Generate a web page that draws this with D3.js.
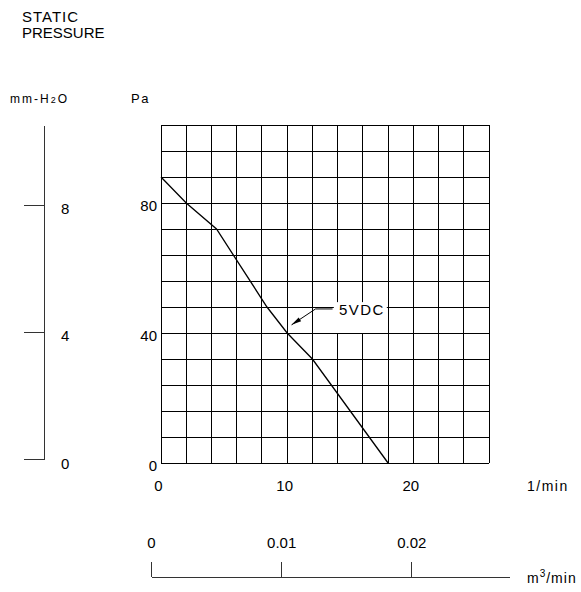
<!DOCTYPE html>
<html>
<head>
<meta charset="utf-8">
<script src="https://cdn.jsdelivr.net/npm/d3@7"></script>
<style>
body{margin:0;background:#fff;}
text{font-family:"Liberation Sans",Arial,sans-serif;fill:#000;}
</style>
</head>
<body>
<div id="viz-container"></div>
<script>
// fan curve, static pressure vs air flow (5VDC)
let flow = [0, 2, 4.4, 8.4, 10, 12, 18];        // 1/min
let pressure = [88, 80, 72, 48, 40, 32, 0];     // Pa

// tick labels
let flowTicks = [0, 10, 20];
let paTicks = [0, 40, 80];
let mmTicks = [0, 4, 8];
let m3Ticks = [0, 0.01, 0.02];
let m3Labels = ["0", "0.01", "0.02"];

// leader for the curve label, in chart units
let noteFlow = [10.35, 12.25, 13.6];
let notePa = [42.5, 47.4, 47.4];

let viz = d3.select("#viz-container")
              .append("svg")
                .attr("width", 581)
                .attr("height", 592)
                .style("background-color", "white")
;

let x = d3.scaleLinear().domain([0, 26]).range([161, 489]);
let y = d3.scaleLinear().domain([0, 104]).range([463, 125]);
let mm = d3.scaleLinear().domain([0, 10.5]).range([459, 125.5]);
let m3 = d3.scaleLinear().domain([0, 0.0275]).range([151, 509]);

//grid
let grid = viz.append("g").attr("shape-rendering", "crispEdges").attr("stroke", "#000").attr("stroke-width", 1);
grid.selectAll("line.v").data(d3.range(0, 27, 2)).enter().append("line")
    .attr("class", "v")
    .attr("x1", d => x(d)).attr("x2", d => x(d))
    .attr("y1", y(0)).attr("y2", y(104));
grid.selectAll("line.h").data(d3.range(0, 105, 8)).enter().append("line")
    .attr("class", "h")
    .attr("x1", x(0)).attr("x2", x(26))
    .attr("y1", d => y(d)).attr("y2", d => y(d));

//curve
let pts = flow.map((f, i) => [f, pressure[i]]);
viz.append("path")
    .attr("d", d3.line().x(d => x(d[0])).y(d => y(d[1]))(pts))
    .attr("fill", "none")
    .attr("stroke", "#000")
    .attr("stroke-width", 1.3);

//label 5VDC with white box and arrow
viz.append("rect")
    .attr("x", x(13.7)).attr("y", y(49.5))
    .attr("width", x(17.9) - x(13.7)).attr("height", y(40) - y(49.5))
    .attr("fill", "white");

viz.append("defs").append("marker")
    .attr("id", "arr")
    .attr("viewBox", "0 -3 10 6")
    .attr("refX", 10).attr("refY", 0)
    .attr("markerUnits", "userSpaceOnUse")
    .attr("markerWidth", 11).attr("markerHeight", 6)
    .attr("orient", "auto")
  .append("path").attr("d", "M0,-2.2L10,0L0,2.2Z").attr("fill", "#000");

let notePts = noteFlow.map((f, i) => [f, notePa[i]]).reverse();
viz.append("path")
    .attr("d", d3.line().x(d => x(d[0])).y(d => y(d[1]))(notePts))
    .attr("fill", "none")
    .attr("stroke", "#000")
    .attr("stroke-width", 1)
    .attr("marker-end", "url(#arr)");

viz.append("text")
    .attr("x", x(14.1)).attr("y", y(47.4) + 6)
    .style("font-size", "15px")
    .style("letter-spacing", "1.5px")
    .text("5VDC");

//Pa axis
let paAxis = viz.append("g")
    .attr("transform", "translate(" + x(0) + ",3)")
    .call(d3.axisLeft(y).tickValues(paTicks).tickSize(0).tickPadding(4));
paAxis.select(".domain").remove();
paAxis.selectAll("text").style("font-size", "15px").style("font-family", "Liberation Sans, Arial, sans-serif");

//mm-H2O axis
let mmAxis = viz.append("g")
    .attr("transform", "translate(44,0)")
    .call(d3.axisRight(mm).tickValues(mmTicks).tickSize(-20).tickSizeOuter(0).tickPadding(17));
mmAxis.selectAll("path, line").attr("stroke", "#333").attr("shape-rendering", "crispEdges");
mmAxis.selectAll("text").attr("dy", "0.6em").style("font-size", "15px").style("font-family", "Liberation Sans, Arial, sans-serif");

//1/min axis
let flowAxis = viz.append("g")
    .attr("transform", "translate(-3," + y(0) + ")")
    .call(d3.axisBottom(x).tickValues(flowTicks).tickSize(0).tickPadding(17));
flowAxis.select(".domain").remove();
flowAxis.selectAll("text").style("font-size", "15px").style("font-family", "Liberation Sans, Arial, sans-serif");

//m3/min axis
let m3Axis = viz.append("g")
    .attr("transform", "translate(0,577)")
    .call(d3.axisTop(m3).tickValues(m3Ticks).tickSize(15).tickSizeOuter(0).tickPadding(14)
            .tickFormat((d, i) => m3Labels[i]));
m3Axis.selectAll("path, line").attr("stroke", "#333").attr("shape-rendering", "crispEdges");
m3Axis.selectAll("text").style("font-size", "15px").style("font-family", "Liberation Sans, Arial, sans-serif");

//titles and units
viz.append("text").attr("x", 22).attr("y", 22).style("font-size", "15px").style("letter-spacing", "1px").text("STATIC");
viz.append("text").attr("x", 22).attr("y", 38).style("font-size", "15px").text("PRESSURE");

let mmLab = viz.append("text").attr("x", 10).attr("y", 103).style("font-size", "12px").style("letter-spacing", "2px");
mmLab.append("tspan").text("mm-H");
mmLab.append("tspan").style("font-size", "9px").text("2");
mmLab.append("tspan").text("O");

viz.append("text").attr("x", 131).attr("y", 103).style("font-size", "13px").style("letter-spacing", "1.5px").text("Pa");

viz.append("text").attr("x", 527).attr("y", 491).style("font-size", "14px").style("letter-spacing", "1.5px").text("1/min");

let m3Lab = viz.append("text").attr("x", 527).attr("y", 583).style("font-size", "14px").style("letter-spacing", "1px");
m3Lab.append("tspan").text("m");
m3Lab.append("tspan").attr("dy", -6).style("font-size", "10px").text("3");
m3Lab.append("tspan").attr("dy", 6).text("/min");
</script>
</body>
</html>
